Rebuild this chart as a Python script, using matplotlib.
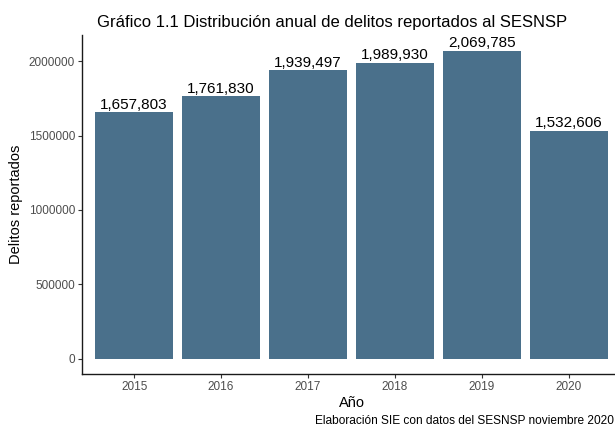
import matplotlib
matplotlib.use("Agg")
import matplotlib.pyplot as plt

plt.rcParams["font.family"] = ["Liberation Sans", "DejaVu Sans"]

# datos del gráfico
anios = ["2015", "2016", "2017", "2018", "2019", "2020"]
delitos = [1657803, 1761830, 1939497, 1989930, 2069785, 1532606]
y_ticks = [0, 500000, 1000000, 1500000, 2000000]

color_barra = "#4A708B"
gris = "#4D4D4D"

fig = plt.figure(figsize=(6.15, 4.28), dpi=100)
# el eje derecho queda fuera de la imagen, como en el original
ax = fig.add_axes([82 / 615, (428 - 374.4) / 428, (621 - 82) / 615, (374.4 - 35.2) / 428])

x = list(range(len(anios)))
ax.bar(x, delitos, width=0.9, color=color_barra)

for xi, v in zip(x, delitos):
    ax.text(xi, v + 3000, f"{v:,}", ha="center", va="bottom", fontsize=11, color="black")

ymax = max(delitos)
ax.set_ylim(-0.05 * ymax, 1.05 * ymax)
ax.set_xlim(-0.6, len(anios) - 0.4)
ax.set_xticks(x)
ax.set_xticklabels(anios)
ax.set_yticks(y_ticks)
ax.set_yticklabels([str(t) for t in y_ticks])
ax.tick_params(axis="both", labelsize=8.5, labelcolor=gris, color="#333333", length=3, width=0.8, pad=2)

for s in ["top", "right"]:
    ax.spines[s].set_visible(False)
for s in ["left", "bottom"]:
    ax.spines[s].set_linewidth(1.0)
    ax.spines[s].set_color("#1a1a1a")

ax.set_xlabel("Año", fontsize=10.5, labelpad=2)
ax.set_ylabel("Delitos reportados", fontsize=10.5, labelpad=4)

fig.text(97 / 615, 1 - 22 / 428, "Gráfico 1.1 Distribución anual de delitos reportados al SESNSP",
         fontsize=12, ha="left", va="center")
fig.text(614 / 615, 1 - 421 / 428, "Elaboración SIE con datos del SESNSP noviembre 2020",
         fontsize=8.6, ha="right", va="center")

fig.savefig("out.png", dpi=100)
